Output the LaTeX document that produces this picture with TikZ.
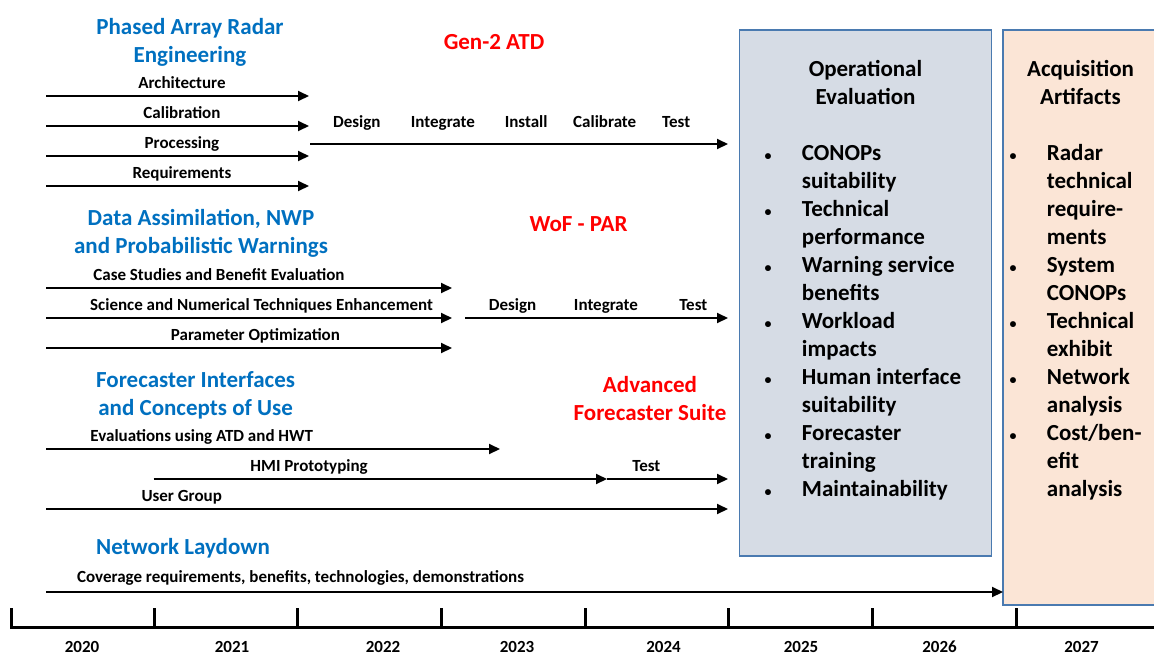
\documentclass[tikz,border=0pt]{standalone}
\usepackage{fontspec}
\setmainfont{Carlito}
\usetikzlibrary{arrows.meta}
\definecolor{headblue}{HTML}{0070C0}
\definecolor{headred}{HTML}{FF0000}
\definecolor{evalfill}{HTML}{D6DCE5}
\definecolor{acqfill}{HTML}{FBE5D6}
\definecolor{boxline}{HTML}{4A7AB0}

\begin{document}
\begin{tikzpicture}[x=1pt,y=-1pt,
  head/.style={font=\bfseries\fontsize{23}{28}\selectfont,align=center,inner sep=0pt,anchor=base},
  lbl/.style={font=\bfseries\fontsize{17}{20}\selectfont,inner sep=0pt,anchor=base,yshift=8pt},
  arr/.style={line width=2pt,-{Triangle[length=11pt,width=10pt]}},
  panel/.style={draw=boxline,line width=1.5pt,inner sep=0pt},
  list/.style={font=\bfseries\fontsize{23}{28}\selectfont,inner sep=0pt,anchor=base west},
  year/.style={font=\bfseries\fontsize{17}{20}\selectfont,inner sep=0pt,anchor=base}]
  \useasboundingbox (0,0) rectangle (1154,654);

  % boxes on the right
  \node (OE) [panel, fill=evalfill, minimum width=252pt, minimum height=526pt] at (865.5,293) {};
  \node (AA) [panel, fill=acqfill, minimum width=167pt, minimum height=575pt] at (1086.5,317.5) {};
  \node (OET) [head] at (865.5,104.4) {Operational\\Evaluation};
  \node (AAT) [head] at (1080.5,104.4) {Acquisition\\Artifacts};
  \node (OEL) [list] at (764.5,160.4) {\begin{tabular}[t]{@{}p{37.2pt}@{}l@{}}
    {\fontsize{14}{14}\selectfont\textbullet} & CONOPs\\ & suitability\\
    {\fontsize{14}{14}\selectfont\textbullet} & Technical\\ & performance\\
    {\fontsize{14}{14}\selectfont\textbullet} & Warning service\\ & benefits\\
    {\fontsize{14}{14}\selectfont\textbullet} & Workload\\ & impacts\\
    {\fontsize{14}{14}\selectfont\textbullet} & Human interface\\ & suitability\\
    {\fontsize{14}{14}\selectfont\textbullet} & Forecaster\\ & training\\
    {\fontsize{14}{14}\selectfont\textbullet} & Maintainability
  \end{tabular}};
  \node (AAL) [list] at (1009.5,160.4) {\begin{tabular}[t]{@{}p{37.2pt}@{}l@{}}
    {\fontsize{14}{14}\selectfont\textbullet} & Radar\\ & technical\\ & require-\\ & ments\\
    {\fontsize{14}{14}\selectfont\textbullet} & System\\ & CONOPs\\
    {\fontsize{14}{14}\selectfont\textbullet} & Technical\\ & exhibit\\
    {\fontsize{14}{14}\selectfont\textbullet} & Network\\ & analysis\\
    {\fontsize{14}{14}\selectfont\textbullet} & Cost/ben-\\ & efit\\ & analysis
  \end{tabular}};

  % phased array radar engineering
  \node (PAR) [head, text=headblue] at (190,62.4) {Phased Array Radar\\Engineering};
  \node (GEN) [head, text=headred] at (494,49.4) {Gen-2 ATD};
  \coordinate (PARs1) at (46,96);  \coordinate (PARe1) at (309,96);
  \coordinate (PARs2) at (46,126); \coordinate (PARe2) at (309,126);
  \coordinate (PARs3) at (46,156); \coordinate (PARe3) at (309,156);
  \coordinate (PARs4) at (46,186); \coordinate (PARe4) at (309,186);
  \coordinate (GENs) at (310,144); \coordinate (GENe) at (728,144);
  \draw[arr] (PARs1) -- node[lbl,pos=.517] (ARC) {Architecture} (PARe1);
  \draw[arr] (PARs2) -- node[lbl,pos=.517] (CAL) {Calibration} (PARe2);
  \draw[arr] (PARs3) -- node[lbl,pos=.517] (PRO) {Processing} (PARe3);
  \draw[arr] (PARs4) -- node[lbl,pos=.517] (REQ) {Requirements} (PARe4);
  \draw[arr] (GENs) -- node[lbl,yshift=9pt,pos=.112] (GENd) {Design}
    node[lbl,yshift=9pt,pos=.318] (GENi) {Integrate}
    node[lbl,yshift=9pt,pos=.517] (GENin) {Install}
    node[lbl,yshift=9pt,pos=.705] (GENc) {Calibrate}
    node[lbl,yshift=9pt,pos=.876] (GENt) {Test} (GENe);

  % data assimilation
  \node (DA) [head, text=headblue] at (201,253.4) {Data Assimilation, NWP\\and Probabilistic Warnings};
  \node (WOF) [head, text=headred] at (578.6,231.4) {WoF - PAR};
  \coordinate (DAs1) at (46,288); \coordinate (DAe1) at (452,288);
  \coordinate (DAs2) at (46,318); \coordinate (DAe2) at (452,318);
  \coordinate (DAs3) at (46,348); \coordinate (DAe3) at (452,348);
  \coordinate (WOFs) at (465,318); \coordinate (WOFe) at (728,318);
  \draw[arr] (DAs1) -- node[lbl,pos=.426] (CSB) {Case Studies and Benefit Evaluation} (DAe1);
  \draw[arr] (DAs2) -- node[lbl,pos=.531] (SNT) {Science and Numerical Techniques Enhancement} (DAe2);
  \draw[arr] (DAs3) -- node[lbl,pos=.516] (PO) {Parameter Optimization} (DAe3);
  \draw[arr] (WOFs) -- node[lbl,pos=.181] (WOFd) {Design}
    node[lbl,pos=.536] (WOFi) {Integrate}
    node[lbl,pos=.868] (WOFt) {Test} (WOFe);

  % forecaster interfaces
  \node (FI) [head, text=headblue] at (195.6,415.4) {Forecaster Interfaces\\and Concepts of Use};
  \node (AFS) [head, text=headred] at (650,420.4) {Advanced\\Forecaster Suite};
  \coordinate (FIs1) at (46,449); \coordinate (FIe1) at (500,449);
  \coordinate (FIs2) at (153.5,479); \coordinate (FIe2) at (607,479);
  \coordinate (AFSe) at (728,479);
  \coordinate (FIs3) at (46,509); \coordinate (FIe3) at (728,509);
  \draw[arr] (FIs1) -- node[lbl,pos=.343] (EVA) {Evaluations using ATD and HWT} (FIe1);
  \draw[arr] (FIs2) -- node[lbl,pos=.343] (HMI) {HMI Prototyping} (FIe2);
  \draw[arr] (FIe2) -- node[lbl,pos=.325] (AFSt) {Test} (AFSe);
  \draw[arr] (FIs3) -- node[lbl,pos=.199] (UG) {User Group} (FIe3);

  % network laydown
  \node (NL) [head, text=headblue] at (183,554.4) {Network Laydown};
  \coordinate (NLs) at (46,592); \coordinate (NLe) at (1003,592);
  \draw[arr] (NLs) -- node[lbl,yshift=2pt,pos=.266] (COV) {Coverage requirements, benefits, technologies, demonstrations} (NLe);

  % time line
  \coordinate (TLs) at (10,627); \coordinate (TLe) at (1160,627);
  \draw[line width=3pt] (TLs) -- (TLe);
  \foreach \x in {11,154.5,297.5,441,585,728.5,872,1016}
    \draw[line width=3pt] (\x,608) -- (\x,627);
  \foreach \x/\yr in {82/2020,232/2021,383/2022,517/2023,663.5/2024,801/2025,939.5/2026,1081.5/2027}
    \node (Y\yr) [year] at (\x,652) {\yr};
\end{tikzpicture}
\end{document}
